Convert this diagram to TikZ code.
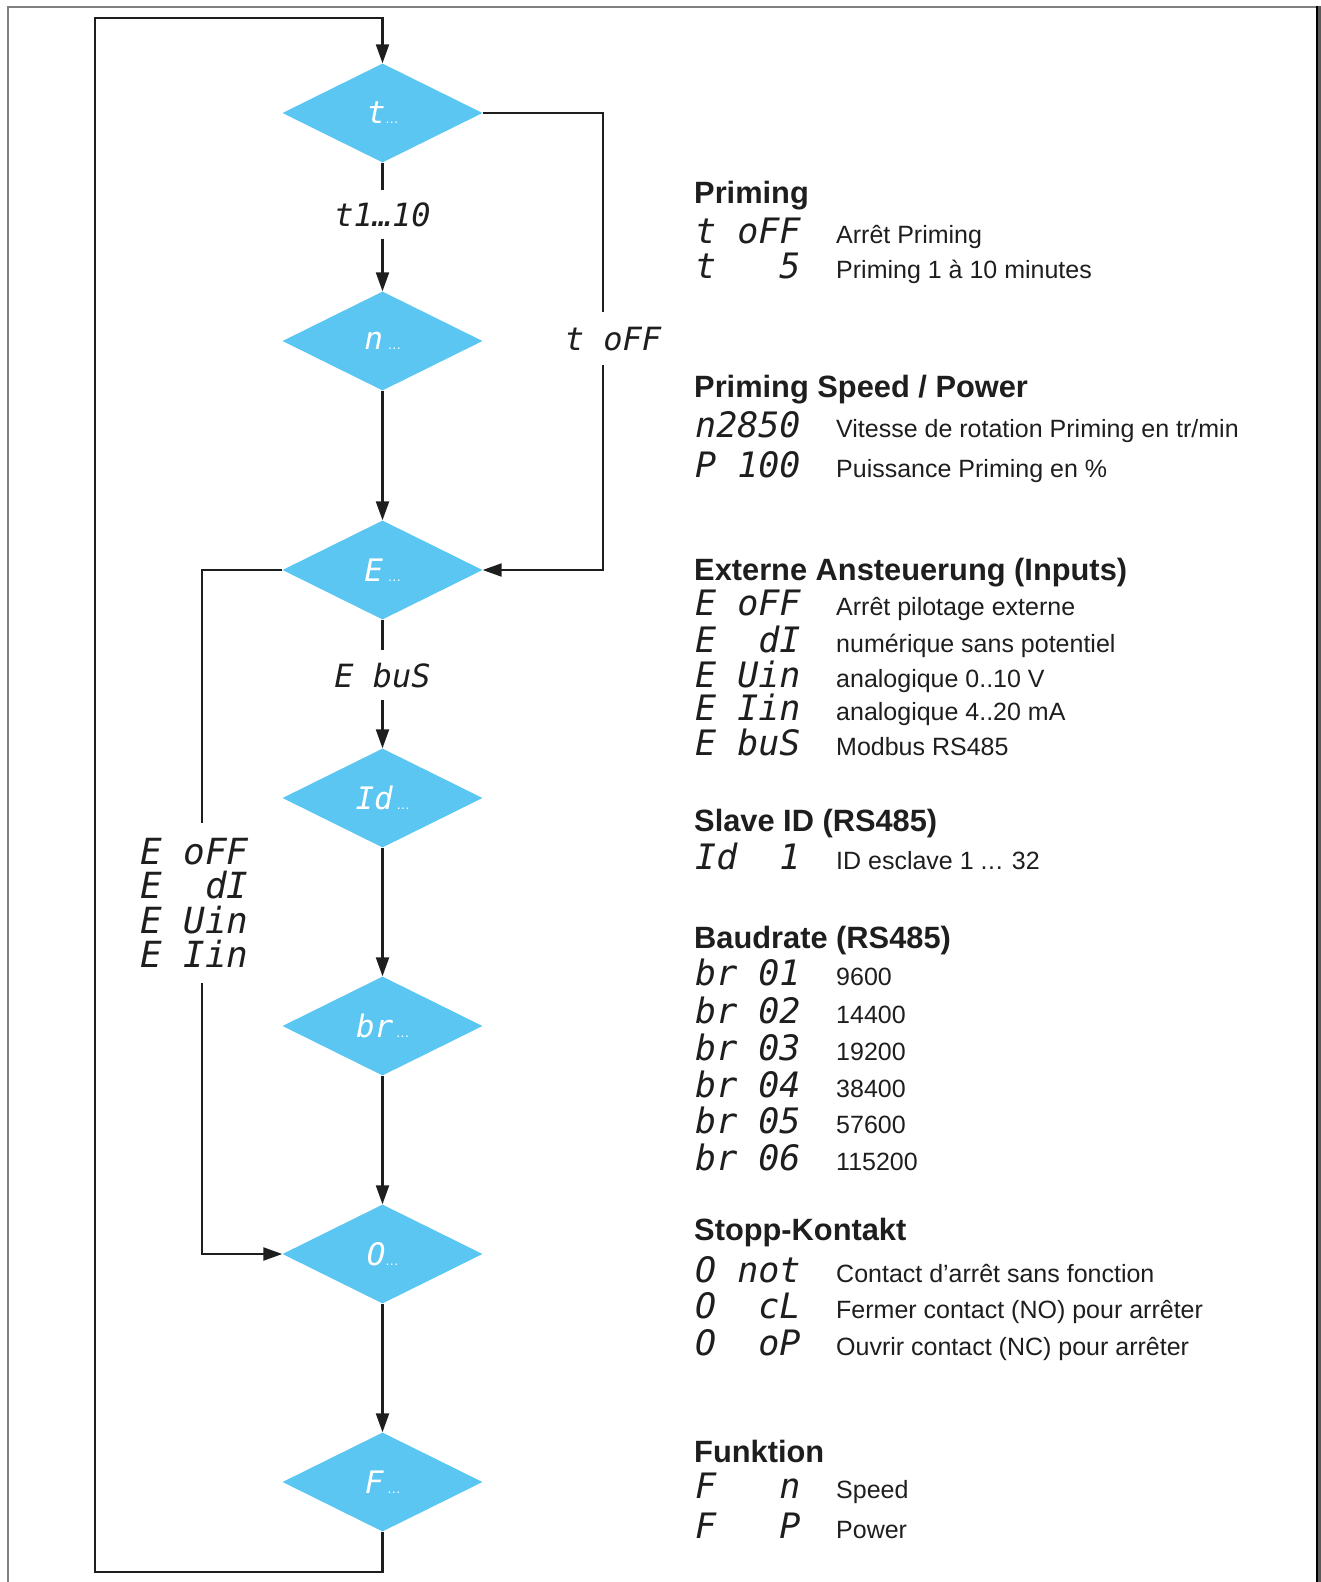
\documentclass[tikz,border=0pt]{standalone}
\usepackage{fontspec}
\setmainfont{Liberation Sans}
\newfontfamily\segfont{DejaVu Sans Mono}
\usetikzlibrary{shapes.geometric, arrows.meta, positioning, calc}
\definecolor{PumpCyan}{RGB}{91, 198, 241}
\definecolor{PumpInk}{RGB}{30, 30, 30}
\definecolor{PumpFrame}{RGB}{128, 128, 128}

\tikzset{
  menu/.style={diamond, fill=PumpCyan, minimum width=200pt, minimum height=99pt,
    inner sep=0pt, text=white, font=\fontsize{31}{31}\selectfont\segfont\itshape},
  flow/.style={draw=PumpInk, line width=2.2pt},
  arr/.style={flow, -{Triangle[length=19pt, width=13pt]}},
  seglbl/.style={anchor=base, inner xsep=2pt, inner ysep=12pt, text=PumpInk,
    font=\fontsize{32}{32}\selectfont\segfont\itshape},
  segcode/.style={anchor=base west, inner sep=0pt, text=PumpInk,
    font=\fontsize{35}{35}\selectfont\segfont\itshape},
  secdesc/.style={anchor=base west, inner sep=0pt, text=PumpInk,
    font=\fontsize{25}{27}\selectfont},
  sechead/.style={anchor=base west, inner sep=0pt, text=PumpInk,
    font=\fontsize{30.8}{33}\selectfont\bfseries},
}
\newcommand{\menudots}{{\rmfamily\upshape\fontsize{14}{14}\selectfont.\kern0.5pt.\kern0.5pt.}}
\newcommand{\idrange}{1 .\kern0.6pt.\kern0.6pt. 32}

\begin{document}
\begin{tikzpicture}[x=1pt,y=-1pt]
  \path[use as bounding box] (0,0) rectangle (1321,1582);

  % Page frame
  \draw[PumpFrame, line width=1.7pt] (7.8,1582) -- (7.8,6.8) -- (1316,6.8);
  \fill[black] (1316,5.9) rectangle (1318.3,1582);
  \fill[black!65] (1318.3,5.9) rectangle (1321,1582);

  % Menu diamonds
  \foreach \name/\y/\txt/\gap in {
    time/113/t/0, speed/341/n/5, ext/570/E/5, slave/798/Id/4,
    baud/1026/br/3, stop/1254/O/0, func/1482/F/4}{
    \node[menu] (\name) at (382.5,\y) {\txt\kern\gap pt\menudots};
  }

  % Rails and loop corners
  \coordinate (rightrail) at (602.7,0);
  \coordinate (leftrail) at (201.7,0);
  \coordinate (loopbot) at (95,1572);
  \coordinate (looptop) at (95,18);

  % Connector labels
  \node[seglbl] (timelbl) at (382.5,226) {t1…10};
  \node[seglbl, inner ysep=14pt] (offlbl) at (613,350) {t~oFF};
  \node[seglbl] (buslbl) at (382.5,687) {E~buS};
  \node[segcode, anchor=north west, align=left, inner xsep=0pt, inner ysep=15pt,
    font=\fontsize{36}{34.5}\selectfont\segfont\itshape] (extlbl) at (140,823)
    {E~oFF\\E~~dI\\E~Uin\\E~Iin};

  % Main chain
  \draw[flow] (time) -- (timelbl);
  \draw[arr] (timelbl) -- (speed);
  \draw[arr] (speed) -- (ext);
  \draw[flow] (ext) -- (buslbl);
  \draw[arr] (buslbl) -- (slave);
  \draw[arr] (slave) -- (baud);
  \draw[arr] (baud) -- (stop);
  \draw[arr] (stop) -- (func);

  % Branches
  \draw[flow] (time.east) -| (offlbl.north -| rightrail);
  \draw[arr] (offlbl.south -| rightrail) |- (ext.east);
  \draw[flow] (ext.west) -| (extlbl.north -| leftrail);
  \draw[arr] (extlbl.south -| leftrail) |- (stop.west);
  \draw[arr] (func.south) |- (loopbot) -- (looptop) -| (time.north);

  % Legend headings
  \foreach \y/\title in {
    203/Priming, 397/{Priming Speed / Power}, 580/Externe Ansteuerung (Inputs),
    831/Slave ID (RS485), 948/Baudrate (RS485), 1240/Stopp-Kontakt, 1462/Funktion}{
    \node[sechead] at (694,\y) {\title};
  }

  % Legend rows
  \foreach \y/\code/\desc in {
    243/t~oFF/Arrêt Priming,
    278/t~~~5/Priming 1 à 10 minutes,
    437/n2850/{Vitesse de rotation Priming en tr/min},
    477/P~100/Puissance Priming en \%,
    615/E~oFF/Arrêt pilotage externe,
    652/E~~dI/numérique sans potentiel,
    687/E~Uin/analogique 0..10 V,
    720/E~Iin/analogique 4..20 mA,
    755/E~buS/Modbus RS485,
    869/Id~~1/ID esclave \idrange,
    985/br~01/9600,
    1023/br~02/14400,
    1060/br~03/19200,
    1097/br~04/38400,
    1133/br~05/57600,
    1170/br~06/115200,
    1282/O~not/Contact d’arrêt sans fonction,
    1318/O~~cL/Fermer contact (NO) pour arrêter,
    1355/O~~oP/Ouvrir contact (NC) pour arrêter,
    1498/F~~~n/Speed,
    1538/F~~~P/Power}{
    \node[segcode] at (695,\y) {\code};
    \node[secdesc] at (836,\y) {\desc};
  }
\end{tikzpicture}
\end{document}
